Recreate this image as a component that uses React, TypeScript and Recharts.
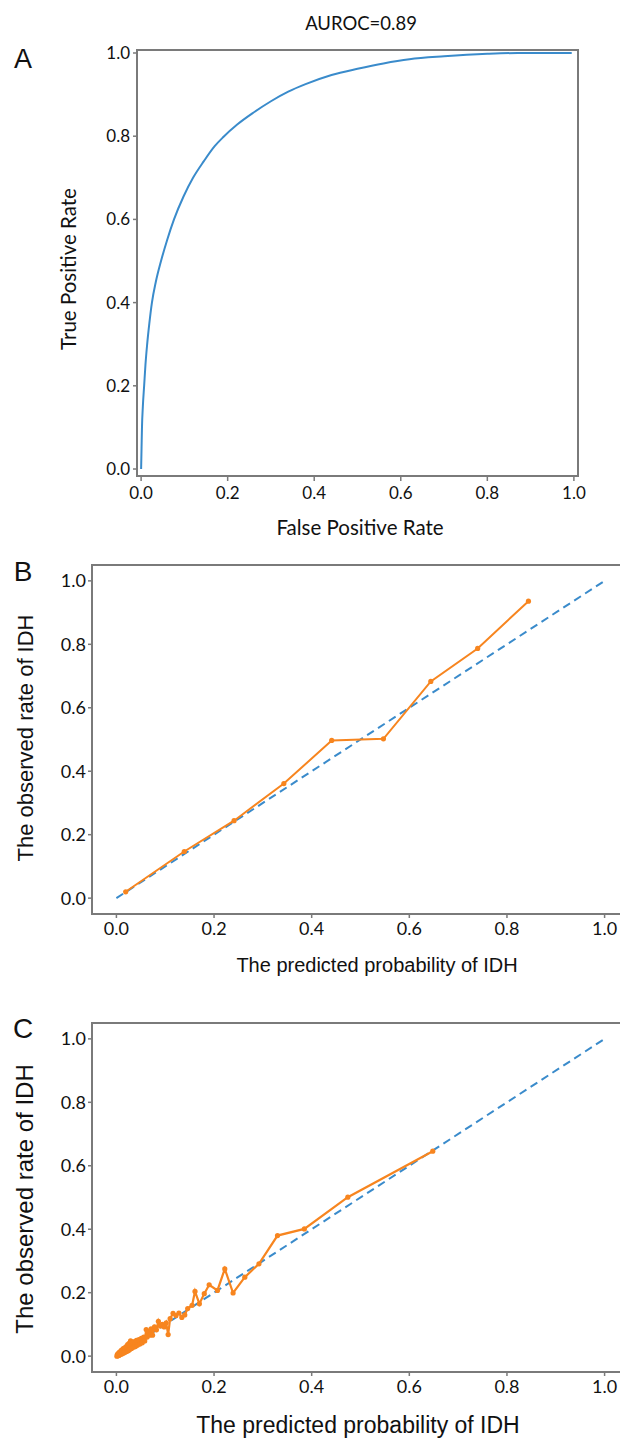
import React from 'react';
import { LineChart, Line, XAxis, YAxis, ReferenceArea } from 'recharts';

// ---------- data ----------
const tickValues = [0, 0.2, 0.4, 0.6, 0.8, 1.0];

// Panel A: ROC curve
const rocFpr = [0, 0.001, 0.002, 0.004, 0.007, 0.010, 0.014, 0.019, 0.025, 0.034, 0.046, 0.060, 0.076, 0.098, 0.120, 0.145, 0.170, 0.190, 0.222, 0.260, 0.300, 0.340, 0.380, 0.440, 0.500, 0.560, 0.620, 0.700, 0.800, 0.870, 0.995];
const rocTpr = [0, 0.05, 0.10, 0.15, 0.20, 0.25, 0.30, 0.35, 0.40, 0.45, 0.50, 0.55, 0.60, 0.655, 0.700, 0.740, 0.776, 0.798, 0.828, 0.857, 0.884, 0.907, 0.925, 0.947, 0.962, 0.975, 0.985, 0.992, 0.998, 1.0, 1.0];

// Panel B: calibration
const calBPred = [0.019, 0.139, 0.241, 0.343, 0.441, 0.547, 0.644, 0.740, 0.844];
const calBObs = [0.020, 0.147, 0.244, 0.361, 0.497, 0.502, 0.683, 0.787, 0.936];

// Panel C: calibration
const calCPred = [0.001, 0.002, 0.003, 0.004, 0.005, 0.006, 0.007, 0.008, 0.009, 0.010, 0.011, 0.012, 0.013, 0.014, 0.015, 0.017, 0.018, 0.020, 0.021, 0.023, 0.024, 0.026, 0.027, 0.029, 0.031, 0.033, 0.035, 0.037, 0.039, 0.041, 0.043, 0.046, 0.048, 0.051, 0.053, 0.056, 0.058, 0.061, 0.063, 0.066, 0.068, 0.071, 0.074, 0.078, 0.082, 0.086, 0.090, 0.094, 0.098, 0.102, 0.106, 0.110, 0.116, 0.122, 0.128, 0.134, 0.140, 0.146, 0.155, 0.161, 0.170, 0.180, 0.190, 0.207, 0.222, 0.239, 0.263, 0.292, 0.330, 0.385, 0.474, 0.648];
const calCObs = [0.000, 0.006, 0.001, 0.009, 0.002, 0.012, 0.004, 0.014, 0.006, 0.018, 0.007, 0.020, 0.009, 0.024, 0.010, 0.026, 0.012, 0.030, 0.015, 0.036, 0.017, 0.040, 0.020, 0.048, 0.024, 0.044, 0.028, 0.046, 0.030, 0.050, 0.034, 0.052, 0.038, 0.056, 0.042, 0.060, 0.048, 0.084, 0.060, 0.078, 0.066, 0.086, 0.066, 0.092, 0.083, 0.110, 0.095, 0.100, 0.092, 0.105, 0.068, 0.118, 0.135, 0.128, 0.136, 0.122, 0.130, 0.150, 0.160, 0.204, 0.165, 0.197, 0.225, 0.207, 0.275, 0.199, 0.249, 0.291, 0.380, 0.401, 0.501, 0.646];

const diagX = [0, 1];
const diagY = [0, 1];

const rocData = rocFpr.map((x, i) => ({ x, y: rocTpr[i] }));
const calBData = calBPred.map((x, i) => ({ x, y: calBObs[i] }));
const calCData = calCPred.map((x, i) => ({ x, y: calCObs[i] }));
const diagData = diagX.map((x, i) => ({ x, y: diagY[i] }));

// ---------- styles ----------
const FRAME = '#7a7a7a';
const BLUE = '#3a8bcb';
const ORANGE = '#f7851f';
const TEXT = '#111';
const fmt = (v: number) => v.toFixed(1);

const abs = (extra: React.CSSProperties): React.CSSProperties => ({
  position: 'absolute',
  whiteSpace: 'nowrap',
  lineHeight: 1,
  color: TEXT,
  ...extra,
});

function Centered({ x, y, rotate = false, font, size, children }: any) {
  return (
    <div
      style={abs({
        left: x,
        top: y,
        fontFamily: font,
        fontSize: size,
        transform: `translate(-50%, -50%)${rotate ? ' rotate(-90deg)' : ''}`,
      })}
    >
      {children}
    </div>
  );
}

const AX_A = [-0.0095, 1.0095];
const AY_A = [-0.0168, 1.0072];
const DOM_BC = [-0.05, 1.05];

export default function App() {
  const tickA = { fontFamily: 'Lato', fontSize: 17, fill: TEXT };
  const tickBC = { fontFamily: 'Lato', fontSize: 18, fill: TEXT };
  const dotStyle = { r: 2.6, fill: ORANGE, stroke: ORANGE, strokeWidth: 0 };
  return (
    <div style={{ position: 'absolute', left: 0, top: 0, width: 620, height: 1439, overflow: 'hidden', background: '#fff' }}>
      {/* Panel A */}
      <div style={{ position: 'absolute', left: 0, top: 0 }}>
        <LineChart width={620} height={545} margin={{ top: 50, right: 42, bottom: 0, left: 0 }}>
          <XAxis type="number" dataKey="x" domain={AX_A} ticks={tickValues} tickFormatter={fmt} allowDataOverflow height={69}
            axisLine={false} tickLine={{ stroke: FRAME, strokeWidth: 1.5 }} tickSize={5} tickMargin={6} tick={tickA} interval={0} />
          <YAxis type="number" dataKey="y" domain={AY_A} ticks={tickValues} tickFormatter={fmt} allowDataOverflow width={137}
            axisLine={false} tickLine={{ stroke: FRAME, strokeWidth: 1.5 }} tickSize={4} tickMargin={3} tick={tickA} interval={0} />
          <ReferenceArea x1={AX_A[0]} x2={AX_A[1]} y1={AY_A[0]} y2={AY_A[1]} fill="none" fillOpacity={0} stroke={FRAME} strokeWidth={2} />
          <Line data={rocData} dataKey="y" type="monotone" stroke={BLUE} strokeWidth={2} dot={false} isAnimationActive={false} />
        </LineChart>
      </div>

      {/* Panel B */}
      <div style={{ position: 'absolute', left: 0, top: 540 }}>
        <LineChart width={640} height={420} margin={{ top: 25, right: 11, bottom: 0, left: 0 }}>
          <XAxis type="number" dataKey="x" domain={DOM_BC} ticks={tickValues} tickFormatter={fmt} allowDataOverflow height={46}
            axisLine={false} tickLine={{ stroke: FRAME, strokeWidth: 1.5 }} tickSize={4} tickMargin={4} tick={tickBC} interval={0} />
          <YAxis type="number" dataKey="y" domain={DOM_BC} ticks={tickValues} tickFormatter={fmt} allowDataOverflow width={92}
            axisLine={false} tickLine={{ stroke: FRAME, strokeWidth: 1.5 }} tickSize={4} tickMargin={2} tick={tickBC} interval={0} />
          <ReferenceArea x1={DOM_BC[0]} x2={DOM_BC[1]} y1={DOM_BC[0]} y2={DOM_BC[1]} fill="none" fillOpacity={0} stroke={FRAME} strokeWidth={2} />
          <Line data={diagData} dataKey="y" type="linear" stroke={BLUE} strokeWidth={2} strokeDasharray="8 5" dot={false} isAnimationActive={false} />
          <Line data={calBData} dataKey="y" type="linear" stroke={ORANGE} strokeWidth={2} dot={dotStyle} isAnimationActive={false} />
        </LineChart>
      </div>

      {/* Panel C */}
      <div style={{ position: 'absolute', left: 0, top: 1000 }}>
        <LineChart width={640} height={420} margin={{ top: 23, right: 11, bottom: 0, left: 0 }}>
          <XAxis type="number" dataKey="x" domain={DOM_BC} ticks={tickValues} tickFormatter={fmt} allowDataOverflow height={48}
            axisLine={false} tickLine={{ stroke: FRAME, strokeWidth: 1.5 }} tickSize={4} tickMargin={4} tick={tickBC} interval={0} />
          <YAxis type="number" dataKey="y" domain={DOM_BC} ticks={tickValues} tickFormatter={fmt} allowDataOverflow width={92}
            axisLine={false} tickLine={{ stroke: FRAME, strokeWidth: 1.5 }} tickSize={4} tickMargin={2} tick={tickBC} interval={0} />
          <ReferenceArea x1={DOM_BC[0]} x2={DOM_BC[1]} y1={DOM_BC[0]} y2={DOM_BC[1]} fill="none" fillOpacity={0} stroke={FRAME} strokeWidth={2} />
          <Line data={diagData} dataKey="y" type="linear" stroke={BLUE} strokeWidth={2} strokeDasharray="8 5" dot={false} isAnimationActive={false} />
          <Line data={calCData} dataKey="y" type="linear" stroke={ORANGE} strokeWidth={2.2} dot={dotStyle} isAnimationActive={false} />
        </LineChart>
      </div>

      {/* Text */}
      <Centered x={361} y={23} font="Lato" size={18.5}>AUROC=0.89</Centered>
      <Centered x={23} y={59} font="'Liberation Sans', Arial" size={27}>A</Centered>
      <Centered x={68} y={269} rotate font="Lato" size={20.5}>True Positive Rate</Centered>
      <Centered x={360} y={527} font="Lato" size={20.5}>False Positive Rate</Centered>

      <Centered x={23} y={572} font="'Liberation Sans', Arial" size={28}>B</Centered>
      <Centered x={26} y={738} rotate font="'Liberation Sans', Arial" size={22}>The observed rate of IDH</Centered>
      <Centered x={377} y={965} font="'Liberation Sans', Arial" size={20}>The predicted probability of IDH</Centered>

      <Centered x={23} y={1029} font="'Liberation Sans', Arial" size={28}>C</Centered>
      <Centered x={25} y={1199} rotate font="'Liberation Sans', Arial" size={24}>The observed rate of IDH</Centered>
      <Centered x={358} y={1425} font="'Liberation Sans', Arial" size={23}>The predicted probability of IDH</Centered>
    </div>
  );
}
